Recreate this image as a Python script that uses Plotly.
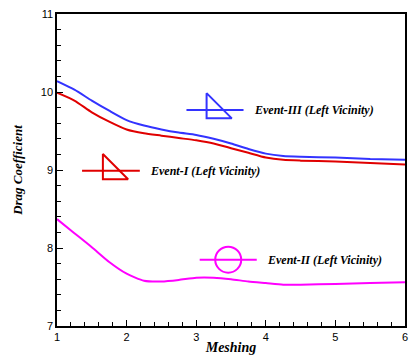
import plotly.graph_objects as go

# ── data ───────────────────────────────────────────────────
mesh_b = [1, 1.25, 1.5, 1.75, 2, 2.25, 2.5, 2.75, 3, 3.25, 3.5, 3.75, 4, 4.25, 4.5, 5, 5.5, 6]
event3 = [10.14, 10.03, 9.89, 9.76, 9.64, 9.57, 9.52, 9.48, 9.45, 9.40, 9.34, 9.27, 9.21, 9.18, 9.17, 9.16, 9.14, 9.13]

mesh_r = [1, 1.25, 1.5, 1.75, 2, 2.25, 2.5, 2.75, 3, 3.25, 3.5, 3.75, 4, 4.25, 4.5, 5, 5.5, 6]
event1 = [9.99, 9.89, 9.74, 9.62, 9.52, 9.47, 9.44, 9.41, 9.38, 9.34, 9.28, 9.22, 9.16, 9.13, 9.12, 9.11, 9.09, 9.07]

mesh_m = [1, 1.25, 1.5, 1.75, 2, 2.25, 2.5, 2.75, 3, 3.25, 3.5, 3.75, 4, 4.25, 4.5, 5, 5.5, 6]
event2 = [8.37, 8.19, 8.01, 7.82, 7.67, 7.58, 7.57, 7.59, 7.62, 7.62, 7.60, 7.57, 7.55, 7.53, 7.53, 7.54, 7.55, 7.56]

# inline legend entries: (name, colour, marker, line x-range, y)
legend_items = [
    ("Event-III (Left Vicinity)", "#3333ff", "triangle-sw-open", [2.86, 3.27, 3.68], 9.77),
    ("Event-I (Left Vicinity)", "#e00000", "triangle-sw-open", [1.36, 1.78, 2.19], 8.99),
    ("Event-II (Left Vicinity)", "#ff00ff", "circle-open", [3.05, 3.46, 3.87], 7.85),
]

SERIF = "Liberation Serif, Times New Roman, serif"
SANS = "Liberation Sans, Arial, sans-serif"

fig = go.Figure()

for xs, ys, col in [(mesh_b, event3, "#3333ff"),
                    (mesh_r, event1, "#e00000"),
                    (mesh_m, event2, "#ff00ff")]:
    fig.add_trace(go.Scatter(x=xs, y=ys, mode="lines",
                             line=dict(color=col, width=2, shape="spline", smoothing=0.6),
                             showlegend=False, hoverinfo="skip"))

for name, col, sym, lx, ly in legend_items:
    fig.add_trace(go.Scatter(x=[lx[0], lx[2]], y=[ly, ly], mode="lines",
                             line=dict(color=col, width=2),
                             showlegend=False, hoverinfo="skip"))
    fig.add_trace(go.Scatter(x=[lx[1]], y=[ly], mode="markers",
                             marker=dict(symbol=sym, size=28 if "triangle" in sym else 26,
                                         color=col, line=dict(color=col, width=2)),
                             showlegend=False, hoverinfo="skip"))
    fig.add_annotation(x=lx[2], y=ly, xref="x", yref="y", text=name,
                       showarrow=False, xanchor="left", xshift=8,
                       font=dict(family=SERIF, size=12, color="black",
                                 weight="bold", style="italic"))

axis_common = dict(
    showline=True, linecolor="black", linewidth=1.5, mirror=True,
    ticks="inside", ticklen=6, tickwidth=1, tickcolor="black",
    showgrid=False, zeroline=False, automargin=False,
    ticklabeloverflow="allow",
    tickfont=dict(family=SANS, size=11, color="black"),
)

fig.update_xaxes(range=[1, 6], dtick=1,
                 minor=dict(dtick=0.2, ticks="inside", ticklen=4, tickcolor="black"),
                 title=dict(text="Meshing", standoff=0,
                            font=dict(family=SERIF, size=14, color="black",
                                      weight="bold", style="italic")),
                 **axis_common)
fig.update_yaxes(range=[7, 11], dtick=1,
                 minor=dict(dtick=0.2, ticks="inside", ticklen=4, tickcolor="black"),
                 title=dict(text="Drag Coefficient", standoff=15,
                            font=dict(family=SERIF, size=13, color="black",
                                      weight="bold", style="italic")),
                 **axis_common)

# page body has an 8px margin, so the figure is drawn 8px smaller
fig.update_layout(
    width=411, height=356,
    margin=dict(l=49, r=14, t=6, b=38),
    plot_bgcolor="white", paper_bgcolor="white",
    showlegend=False,
)

fig.write_html("out.html")
